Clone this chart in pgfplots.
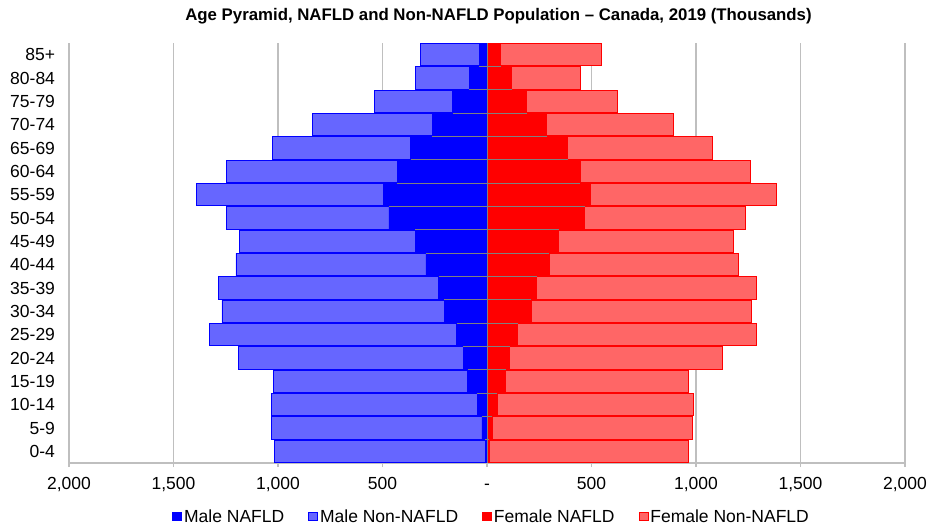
\documentclass[border=0pt]{standalone}
\usepackage{pgfplots}
\pgfplotsset{compat=1.18}
\usepackage{pgfplotstable}
\usepackage{fontspec}
\setmainfont{Liberation Sans}

\definecolor{mdark}{RGB}{0,0,255}
\definecolor{mlight}{RGB}{102,102,255}
\definecolor{fdark}{RGB}{255,0,0}
\definecolor{flight}{RGB}{255,102,102}
\definecolor{gridgray}{RGB}{191,191,191}
\definecolor{linegray}{RGB}{128,128,128}

% y: 0 = 0-4 ... 17 = 85+ ; male values negative (drawn to the left)
\pgfplotstableread{
y   mn    mnn    fn    fnn
0   -8    -1010  10    952
1   -24   -1008  24    957
2   -46   -986   49    937
3   -92   -930   89    876
4   -113  -1077  108   1020
5   -144  -1185  146   1143
6   -204  -1064  211   1055
7   -231  -1053  238   1049
8   -292  -909   298   907
9   -344  -841   344   837
10  -469  -778   467   769
11  -496  -895   495   890
12  -429  -818   446   816
13  -365  -662   386   693
14  -262  -575   286   604
15  -164  -375   190   434
16  -86   -258   119   329
17  -38   -281   65    483
}\data

\pgfplotsset{base/.style={
  scale only axis, width=836bp, height=420bp,
  xmin=-2000, xmax=2000, ymin=-0.5, ymax=17.5,
}, bars/.style={
  xbar stacked, bar width=0.965,
  every axis plot/.append style={line width=0.9bp},
}}

\begin{document}
\begin{tikzpicture}
\begin{axis}[base, bars, name=ax,
  axis x line*=bottom, axis y line*=left,
  axis line style={gridgray, line width=1.2bp},
  xtick={-2000,-1500,...,2000},
  xticklabels={{2,000},{1,500},{1,000},{500},{-},{500},{1,000},{1,500},{2,000}},
  ytick={0,...,17},
  yticklabels={0-4,5-9,10-14,15-19,20-24,25-29,30-34,35-39,40-44,45-49,50-54,55-59,60-64,65-69,70-74,75-79,80-84,85+},
  xmajorgrids, grid style={gridgray, line width=1.2bp},
  tick align=outside, major tick length=4bp,
  xtick style={gridgray, line width=1.2bp},
  ytick style={draw=none},
  ticklabel style={font=\fontsize{17.5bp}{20bp}\selectfont},
  yticklabel style={xshift=-6.5bp},
  xticklabel style={yshift=-6bp, text height=12.5bp, text depth=0bp},
  title={Age Pyramid, NAFLD and Non-NAFLD Population -- Canada, 2019 (Thousands)},
  title style={font=\fontsize{16.8bp}{19bp}\selectfont\bfseries, at={(0.5,1)}, anchor=south, yshift=9.5bp, xshift=11.5bp},
]
\addplot[fill=mdark, draw=mdark] table[x=mn, y=y] {\data};
\addplot[fill=mlight, draw=mdark] table[x=mnn, y=y] {\data};
\end{axis}
\begin{axis}[base, bars, hide axis,
  legend columns=4,
  legend style={draw=none, fill=none, at={(0.5055,-0.128)}, anchor=center,
    font=\fontsize{17.5bp}{20bp}\selectfont,
    /tikz/every even column/.append style={column sep=22bp},
    inner sep=0pt},
  legend image code/.code={\draw[#1, line width=0.8bp] (0bp,-4bp) rectangle (9bp,4bp);},
]
\addlegendimage{fill=mdark, draw=mdark}
\addlegendentry{Male NAFLD}
\addlegendimage{fill=mlight, draw=mdark}
\addlegendentry{Male Non-NAFLD}
\addplot[fill=fdark, draw=fdark] table[x=fn, y=y] {\data};
\addlegendentry{Female NAFLD}
\addplot[fill=flight, draw=fdark] table[x=fnn, y=y] {\data};
\addlegendentry{Female Non-NAFLD}
\end{axis}
\begin{axis}[base, hide axis, unbounded coords=jump]
% zero line
\addplot[linegray, line width=0.8bp] coordinates {(0,-0.5) (0,17.5)};
% series lines between adjacent bars (overlap of NAFLD segments)
\addplot[linegray, line width=0.8bp] coordinates {
(-8,0.5) (10,0.5) (nan,nan)
(-24,1.5) (24,1.5) (nan,nan)
(-46,2.5) (49,2.5) (nan,nan)
(-92,3.5) (89,3.5) (nan,nan)
(-113,4.5) (108,4.5) (nan,nan)
(-144,5.5) (146,5.5) (nan,nan)
(-204,6.5) (211,6.5) (nan,nan)
(-231,7.5) (238,7.5) (nan,nan)
(-292,8.5) (298,8.5) (nan,nan)
(-344,9.5) (344,9.5) (nan,nan)
(-469,10.5) (467,10.5) (nan,nan)
(-429,11.5) (446,11.5) (nan,nan)
(-365,12.5) (386,12.5) (nan,nan)
(-262,13.5) (286,13.5) (nan,nan)
(-164,14.5) (190,14.5) (nan,nan)
(-86,15.5) (119,15.5) (nan,nan)
(-38,16.5) (65,16.5)
};
\end{axis}
\pgfresetboundingbox
\path[use as bounding box] ([shift={(-69bp,-68bp)}]ax.south west) rectangle ([shift={(24bp,43bp)}]ax.north east);
\end{tikzpicture}
\end{document}
